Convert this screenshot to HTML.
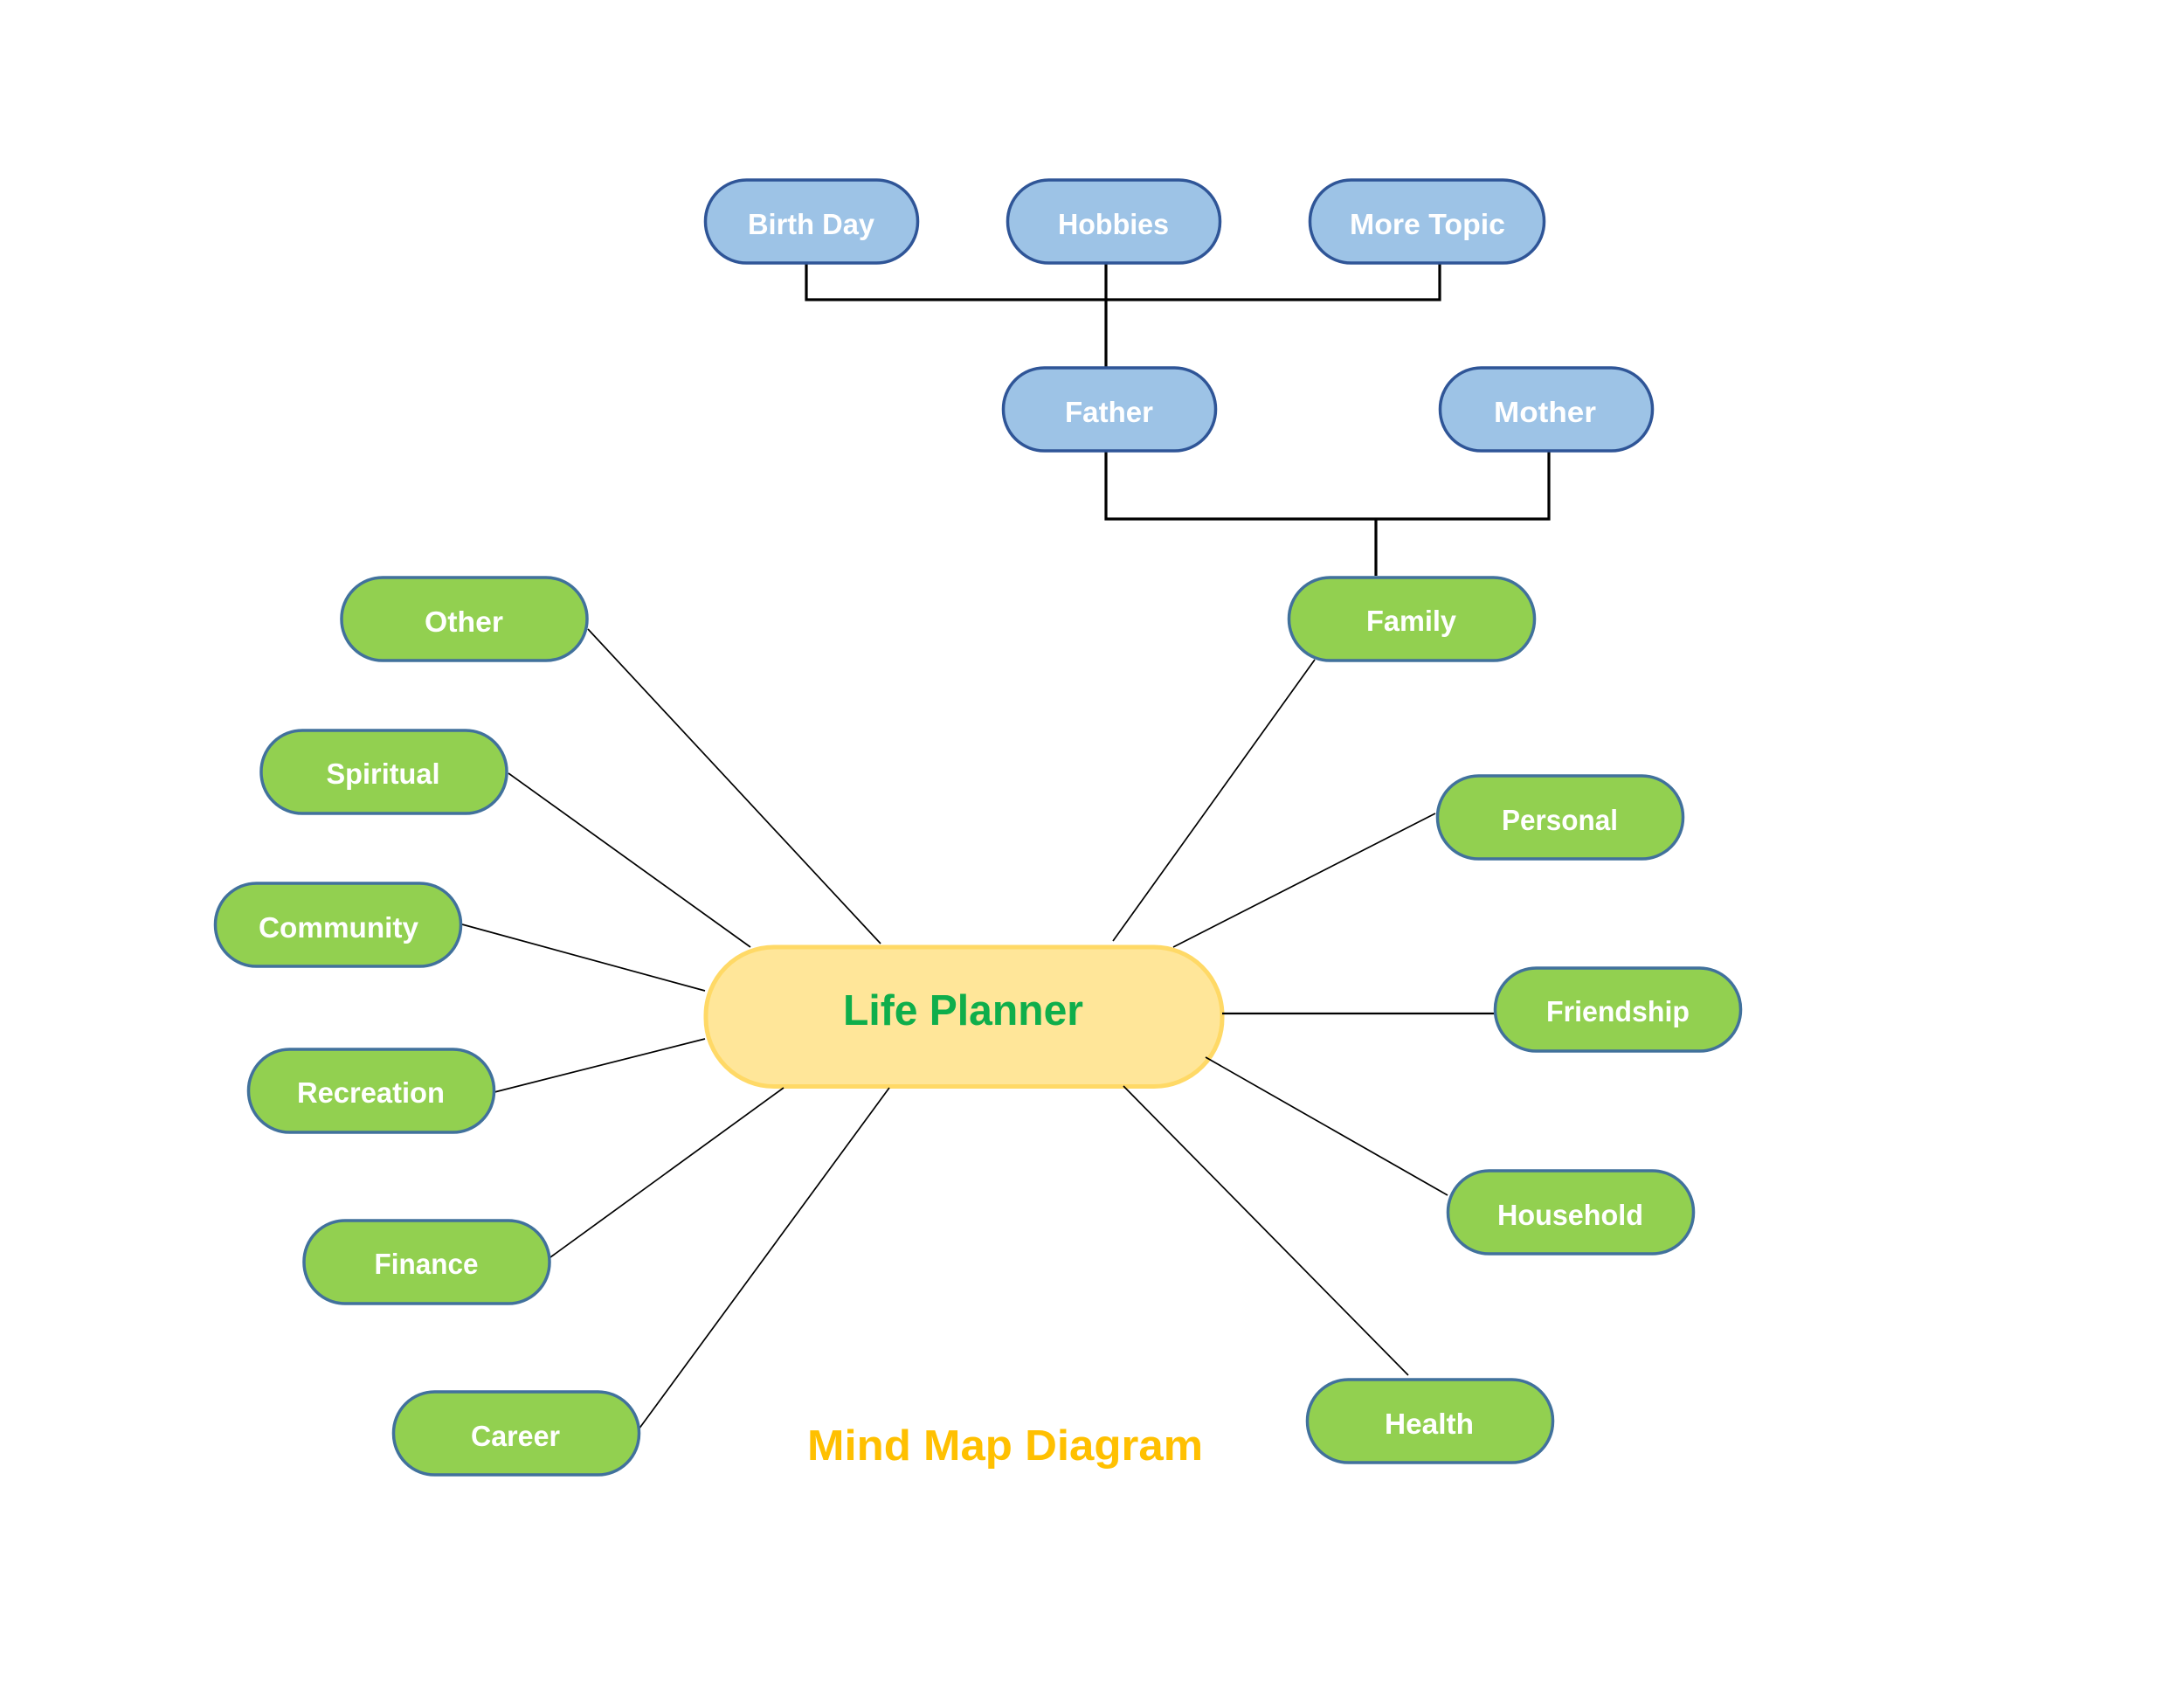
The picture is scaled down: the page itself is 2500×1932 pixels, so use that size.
<!DOCTYPE html>
<html>
<head>
<meta charset="utf-8">
<title>Mind Map Diagram</title>
<style>
html,body{margin:0;padding:0;background:#fff;width:2500px;height:1932px;overflow:hidden}
svg{display:block}
text{font-family:"Liberation Sans",sans-serif;font-weight:bold;fill:#fff;font-size:33px}
.b{fill:#9dc3e6;stroke:#2f5597;stroke-width:3.5}
.g{fill:#92d050;stroke:#41719c;stroke-width:3.5}
.e{fill:none;stroke:#000;stroke-width:3.2}
.t{stroke:#000;stroke-width:1.7;fill:none}
</style>
</head>
<body>
<svg width="2500" height="1932" viewBox="0 0 2500 1932" xmlns="http://www.w3.org/2000/svg">
<rect width="2500" height="1932" fill="#fff"/>

<!-- center -->
<rect x="808" y="1084" width="591" height="159.5" rx="78" fill="#ffe699" stroke="#ffd966" stroke-width="5"/>

<!-- elbow connectors -->
<path class="e" d="M923 301V343H1648V301"/>
<path class="e" d="M1266 301V420"/>
<path class="e" d="M1266 517V594H1773V517"/>
<path class="e" d="M1575 594V659"/>

<!-- radial lines -->
<line class="t" x1="673" y1="720" x2="1008" y2="1080"/>
<line class="t" x1="582" y1="885" x2="859" y2="1084"/>
<line class="t" x1="529" y1="1058" x2="807" y2="1134"/>
<line class="t" x1="562" y1="1251" x2="807" y2="1189"/>
<line class="t" x1="630" y1="1439" x2="897" y2="1245"/>
<line class="t" x1="731" y1="1636" x2="1018" y2="1245"/>
<line class="t" x1="1505" y1="755" x2="1274" y2="1077"/>
<line class="t" x1="1643" y1="931" x2="1343" y2="1084"/>
<line class="t" x1="1399" y1="1160" x2="1710" y2="1160" style="stroke-width:2.2"/>
<line class="t" x1="1657" y1="1368" x2="1380" y2="1210"/>
<line class="t" x1="1612" y1="1574" x2="1286" y2="1243"/>

<!-- blue nodes -->
<rect class="b" x="807.5" y="206" width="243" height="95" rx="47"/>
<rect class="b" x="1153.5" y="206" width="243" height="95" rx="47"/>
<rect class="b" x="1499.5" y="206" width="268" height="95" rx="47"/>
<rect class="b" x="1148.5" y="421" width="243" height="95" rx="47"/>
<rect class="b" x="1648.5" y="421" width="243" height="95" rx="47"/>

<!-- green nodes -->
<rect class="g" x="1475.5" y="661" width="281" height="95" rx="47"/>
<rect class="g" x="391" y="661" width="281" height="95" rx="47"/>
<rect class="g" x="299" y="836" width="281" height="95" rx="47"/>
<rect class="g" x="246.5" y="1011" width="281" height="95" rx="47"/>
<rect class="g" x="284.5" y="1201" width="281" height="95" rx="47"/>
<rect class="g" x="348" y="1397" width="281" height="95" rx="47"/>
<rect class="g" x="450.5" y="1593" width="281" height="95" rx="47"/>
<rect class="g" x="1645.5" y="888" width="281" height="95" rx="47"/>
<rect class="g" x="1711.5" y="1108" width="281" height="95" rx="47"/>
<rect class="g" x="1657.5" y="1340" width="281" height="95" rx="47"/>
<rect class="g" x="1496.5" y="1579" width="281" height="95" rx="47"/>

<!-- labels -->
<text x="856" y="268" textLength="145" lengthAdjust="spacingAndGlyphs">Birth Day</text>
<text x="1211" y="268" textLength="127" lengthAdjust="spacingAndGlyphs">Hobbies</text>
<text x="1545" y="268" textLength="178" lengthAdjust="spacingAndGlyphs">More Topic</text>
<text x="1219" y="483" textLength="101" lengthAdjust="spacingAndGlyphs">Father</text>
<text x="1710" y="483" textLength="117" lengthAdjust="spacingAndGlyphs">Mother</text>
<text x="1564" y="722" textLength="103" lengthAdjust="spacingAndGlyphs">Family</text>
<text x="486" y="723" textLength="90" lengthAdjust="spacingAndGlyphs">Other</text>
<text x="373.5" y="897" textLength="130" lengthAdjust="spacingAndGlyphs">Spiritual</text>
<text x="296" y="1073" textLength="183" lengthAdjust="spacingAndGlyphs">Community</text>
<text x="340" y="1262" textLength="169" lengthAdjust="spacingAndGlyphs">Recreation</text>
<text x="428.5" y="1458" textLength="119" lengthAdjust="spacingAndGlyphs">Finance</text>
<text x="539" y="1655" textLength="102" lengthAdjust="spacingAndGlyphs">Career</text>
<text x="1719" y="950" textLength="133" lengthAdjust="spacingAndGlyphs">Personal</text>
<text x="1770" y="1169" textLength="164" lengthAdjust="spacingAndGlyphs">Friendship</text>
<text x="1714" y="1402" textLength="167" lengthAdjust="spacingAndGlyphs">Household</text>
<text x="1585" y="1641" textLength="102" lengthAdjust="spacingAndGlyphs">Health</text>
<text x="965" y="1173" textLength="275" lengthAdjust="spacingAndGlyphs" style="font-size:49px;fill:#0fae4b">Life Planner</text>
<text x="924" y="1671" textLength="453" lengthAdjust="spacingAndGlyphs" style="font-size:49px;fill:#ffc000">Mind Map Diagram</text>
</svg>
</body>
</html>
